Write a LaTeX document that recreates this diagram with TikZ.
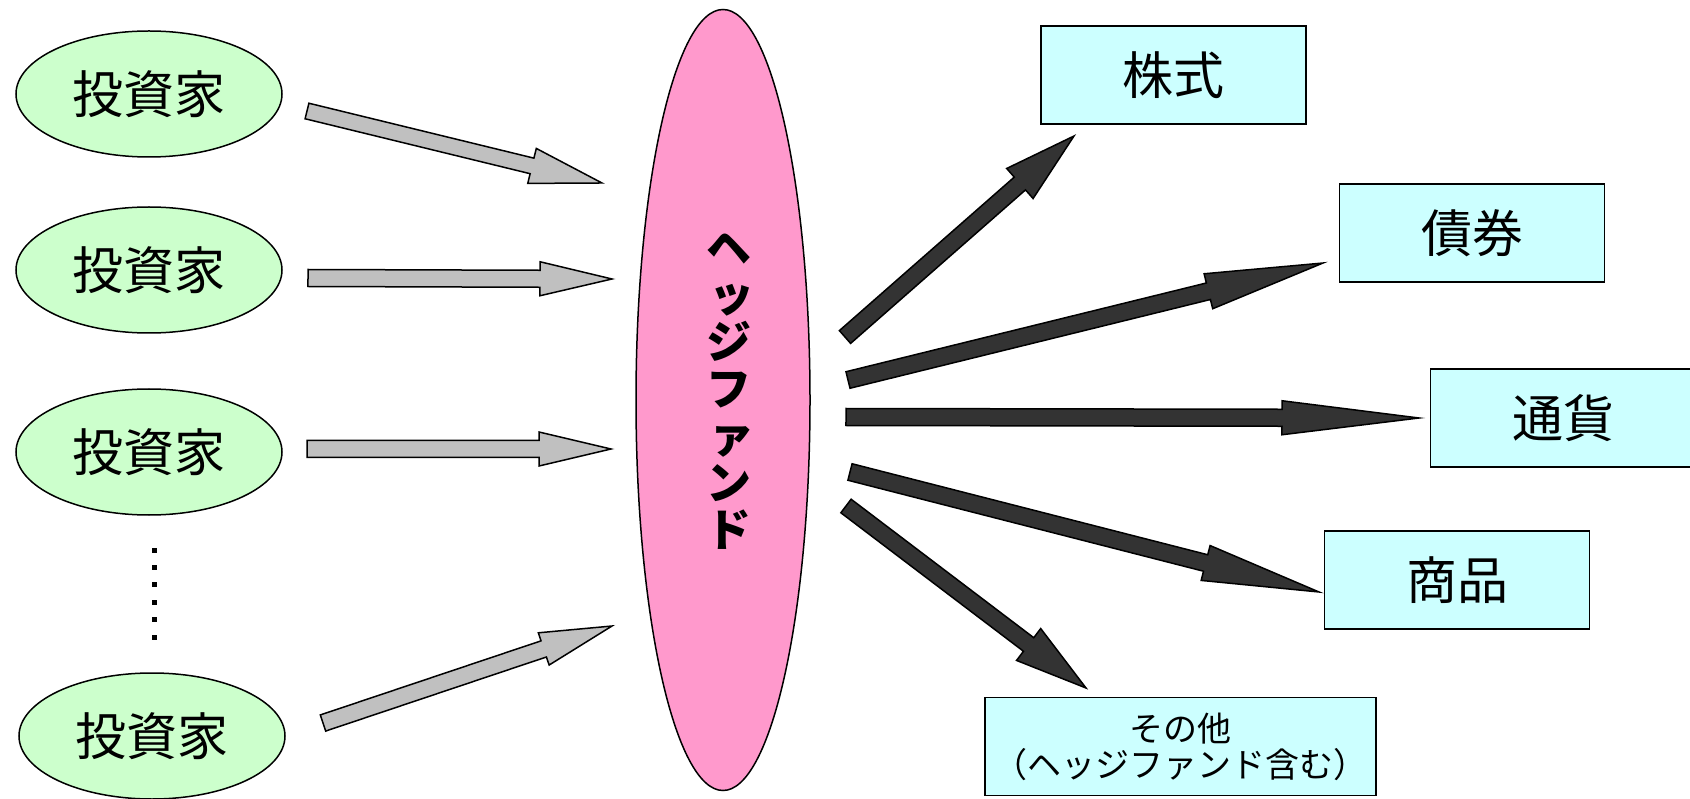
\documentclass[tikz,border=0pt]{standalone}
\usepackage{fontspec}
\newfontfamily\jp{Noto Sans CJK JP}
\usetikzlibrary{shapes.geometric,calc}
\definecolor{invgreen}{HTML}{CCFFCC}
\definecolor{hfpink}{HTML}{FF99CC}
\definecolor{boxcyan}{HTML}{CCFFFF}
\definecolor{grayarrow}{HTML}{C0C0C0}
\definecolor{darkarrow}{HTML}{333333}
\tikzset{
 investor/.style={ellipse, draw, line width=1.5pt, fill=invgreen, minimum width=266pt, minimum height=126pt, inner sep=0pt, font=\jp\fontsize{51}{53}\selectfont},
 fundell/.style={ellipse, draw, line width=1.5pt, fill=hfpink, minimum width=174pt, minimum height=781pt, inner sep=0pt},
 asset/.style={rectangle, draw, line width=1.5pt, fill=boxcyan, minimum width=265pt, minimum height=98pt, inner sep=0pt, font=\jp\fontsize{51}{53}\selectfont},
 grayarr/.style={draw, line width=1.5pt, fill=grayarrow, line join=miter},
 darkarr/.style={draw, line width=1.5pt, fill=darkarrow, line join=miter},
 dotmark/.style={fill=black, minimum size=5pt, inner sep=0pt, rectangle},
}
\newcommand\smallkana[1]{\hspace{0.12em}#1}
% #1 style, #2 from, #3 to, #4 shaft half width, #5 head half width, #6 head length
\newcommand\blockarr[6]{%
  \path (#2); \pgfgetlastxy{\ax}{\ay}%
  \path (#3); \pgfgetlastxy{\bx}{\by}%
  \pgfmathsetmacro\ang{atan2(\by-\ay,\bx-\ax)}%
  \pgfmathsetmacro\len{veclen(\bx-\ax,\by-\ay)}%
  \pgfmathsetmacro\neck{\len-#6}%
  \begin{scope}[shift={(#2)},rotate=\ang]
    \path[#1] (0pt,#4pt) -- (\neck pt,#4pt) -- (\neck pt,#5pt) -- (\len pt,0pt)
      -- (\neck pt,-#5pt) -- (\neck pt,-#4pt) -- (0pt,-#4pt) -- cycle;
  \end{scope}}
\begin{document}
\begin{tikzpicture}[x=1pt,y=-1pt]
\useasboundingbox[fill=white] (0,0) rectangle (1690,799);
% investors
\node[investor] (inv1) at (149,94) {投資家};
\node[investor] (inv2) at (149,270) {投資家};
\node[investor] (inv3) at (149,452) {投資家};
\node[investor] (inv4) at (152,736) {投資家};
\foreach \i in {0,...,5} \node[dotmark] (dot\i) at (154,{550+17.4*\i}) {};
% hedge fund
\node[fundell] (hf) at (723,400) {};
\node[font=\jp\bfseries\fontsize{45}{47}\selectfont, align=center, inner sep=0pt] (hftext) at (729,391)
  {ヘ\\\smallkana{ッ}\\ジ\\フ\\\smallkana{ァ}\\ン\\ド};
% assets
\node[asset] (stock) at (1173.5,75) {株式};
\node[asset] (bond) at (1472,233) {債券};
\node[asset] (fx) at (1563,418) {通貨};
\node[asset] (comm) at (1457,580) {商品};
\node[asset, minimum width=391pt, minimum height=98pt, align=center, font=\jp\fontsize{34}{36}\selectfont] (other) at (1180.5,746.5) {その他\\（ヘッジファンド含む）};
% arrow endpoints
\coordinate (g1a) at (307,111); \coordinate (g1b) at (602,183);
\coordinate (g2a) at (308,278); \coordinate (g2b) at (612,279);
\coordinate (g3a) at (307,449); \coordinate (g3b) at (611,449);
\coordinate (g4a) at (323,723); \coordinate (g4b) at (612,626);
\coordinate (d1a) at (845,337); \coordinate (d1b) at (1074,136);
\coordinate (d2a) at (848,380); \coordinate (d2b) at (1323,263);
\coordinate (d3a) at (846,417); \coordinate (d3b) at (1419,418);
\coordinate (d4a) at (850,472); \coordinate (d4b) at (1319,592);
\coordinate (d5a) at (846,506); \coordinate (d5b) at (1086,688);
\blockarr{grayarr}{g1a}{g1b}{8}{18}{72}
\blockarr{grayarr}{g2a}{g2b}{8.5}{17}{72}
\blockarr{grayarr}{g3a}{g3b}{8.5}{17}{72}
\blockarr{grayarr}{g4a}{g4b}{8.5}{17}{72}
\blockarr{darkarr}{d1a}{d1b}{8.5}{20}{72}
\blockarr{darkarr}{d2a}{d2b}{8.5}{18}{118}
\blockarr{darkarr}{d3a}{d3b}{8.5}{17}{137}
\blockarr{darkarr}{d4a}{d4b}{8.5}{18}{117}
\blockarr{darkarr}{d5a}{d5b}{8.5}{20}{72}
\end{tikzpicture}
\end{document}
